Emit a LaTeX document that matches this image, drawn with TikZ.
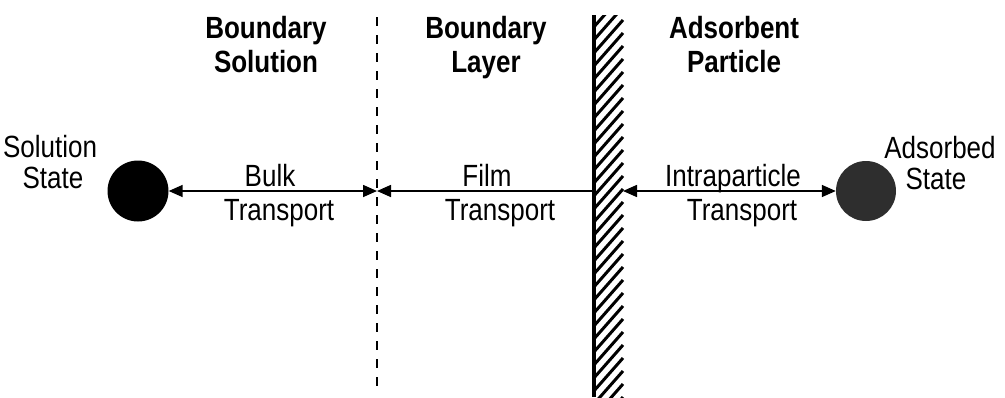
\documentclass[tikz,border=0pt]{standalone}
\usepackage{fontspec}
\usepackage{graphicx}
\setmainfont{Liberation Sans}
\usetikzlibrary{arrows.meta}
\newcommand{\stretchtxt}[1]{\scalebox{1}[1.18]{#1}}
\tikzset{
  lbl/.style={font=\fontsize{26}{31}\selectfont, inner sep=0pt, anchor=base},
  hdr/.style={font=\fontsize{26}{31}\selectfont\bfseries, inner sep=0pt, anchor=base},
  flow/.style={line width=1.6pt},
  tip/.style={arrows={-Triangle[length=14pt,width=12pt]}},
}
\begin{document}
\begin{tikzpicture}[x=1pt,y=-1pt]
\useasboundingbox (0,0) rectangle (1005,397);
% states
\node[circle, fill=black, minimum size=61pt, inner sep=0pt] (sol) at (138,191) {};
\node[circle, fill=black!82, minimum size=60pt, inner sep=0pt] (ads) at (866,191) {};
% boundary dashed line
\coordinate (dtop) at (377,17);
\coordinate (dbot) at (377,390);
\coordinate (dmid) at (377,191);
\draw[line width=1.6pt, dash pattern=on 9pt off 9pt] (dtop) -- (dbot);
% hatched wall
\coordinate (wl) at (593,191);
\coordinate (wr) at (623,191);
\begin{scope}
\clip (593,15) rectangle (624,397);
\foreach \k in {0,...,32} {
  \draw[line width=3pt] (593,{15+\k*13}) -- (623,{15+\k*13-34});
}
\end{scope}
\draw[line width=3.2pt] (594,15) -- (594,397);
% connectors
\draw[flow, arrows={Triangle[length=14pt,width=12pt]-Triangle[length=14pt,width=12pt]}] (sol.east) -- (dmid);
\draw[flow, tip] (wl) -- (dmid);
\draw[flow, arrows={Triangle[length=14pt,width=12pt]-Triangle[length=14pt,width=12pt]}] (wr) -- (ads.west);
% headers
\node[hdr] (h1a) at (266,38) {\stretchtxt{Boundary}};
\node[hdr] (h1b) at (266,72) {\stretchtxt{Solution}};
\node[hdr] (h2a) at (486,38) {\stretchtxt{Boundary}};
\node[hdr] (h2b) at (486,72) {\stretchtxt{Layer}};
\node[hdr] (h3a) at (734,38) {\stretchtxt{Adsorbent}};
\node[hdr] (h3b) at (734,72) {\stretchtxt{Particle}};
% state labels
\node[lbl] (s1a) at (50,157) {\stretchtxt{Solution}};
\node[lbl] (s1b) at (53,188) {\stretchtxt{State}};
\node[lbl] (s2a) at (940,158) {\stretchtxt{Adsorbed}};
\node[lbl] (s2b) at (936,189) {\stretchtxt{State}};
% transport labels
\node[lbl] (t1a) at (270,186) {\stretchtxt{Bulk}};
\node[lbl] (t1b) at (279,220) {\stretchtxt{Transport}};
\node[lbl] (t2a) at (487,186) {\stretchtxt{Film}};
\node[lbl] (t2b) at (500,220) {\stretchtxt{Transport}};
\node[lbl] (t3a) at (733,186) {\stretchtxt{Intraparticle}};
\node[lbl] (t3b) at (742,220) {\stretchtxt{Transport}};
\end{tikzpicture}
\end{document}
